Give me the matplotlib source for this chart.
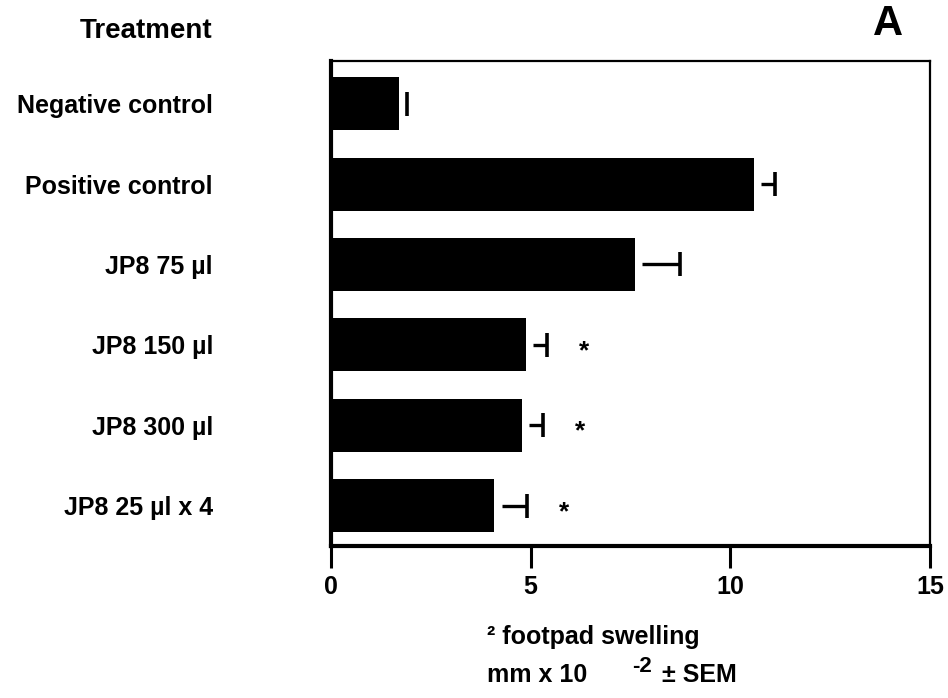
import numpy as np
import matplotlib.pyplot as plt

# values (mm x 10^-2 footpad swelling, +SEM)
treatments = ["Negative control", "Positive control", "JP8 75 µl",
              "JP8 150 µl", "JP8 300 µl", "JP8 25 µl x 4"]
swelling = [1.70, 10.60, 7.62, 4.89, 4.79, 4.09]
sem = [0.20, 0.53, 1.13, 0.52, 0.52, 0.82]
significant = [False, False, False, True, True, True]
x_ticks = [0, 5, 10, 15]

plt.rcParams["font.family"] = ["Liberation Sans", "DejaVu Sans"]
plt.rcParams["font.weight"] = "bold"

fig = plt.figure(figsize=(9.48, 6.98), dpi=100)
ax = fig.add_axes([331 / 948, 1 - 546 / 698, 599 / 948, 485 / 698])

y = np.arange(len(treatments))
vals = np.array(swelling)
errs = np.array(sem)
ax.barh(y, vals, height=0.66, color="black")

# one-sided error bars: small gap after the bar, then line + end cap
gap = 0.18
ax.hlines(y, vals + gap, vals + errs, color="black", linewidth=2.4)
ax.plot(vals + errs, y, linestyle="none", marker="|", markersize=17,
        markeredgewidth=2.6, color="black")

# significance stars just right of the error bar
for yi, v, e, s in zip(y, vals, errs, significant):
    if s:
        ax.text(v + e + 0.92, yi + 0.08, "*", ha="center", va="center",
                fontsize=19, fontweight="bold")

ax.set_xlim(0, 15)
ax.set_ylim(5.5, -0.53)
ax.set_xticks(x_ticks)
ax.set_xticklabels([str(t) for t in x_ticks], fontsize=18)
ax.set_yticks(y)
ax.set_yticklabels(treatments, fontsize=18)
ax.tick_params(axis="y", length=0, pad=85)
ax.tick_params(axis="x", direction="out", length=16, width=2.2, pad=5)

for side in ["left", "bottom"]:
    ax.spines[side].set_linewidth(3)
for side in ["top", "right"]:
    ax.spines[side].set_linewidth(1.6)

fig.text(212 / 948, 1 - 31 / 698, "Treatment", ha="right", va="center",
         fontsize=20, fontweight="bold")
fig.text(888 / 948, 1 - 24 / 698, "A", ha="center", va="center",
         fontsize=30, fontweight="bold")

# axis title, two lines as in the original
fig.text(487 / 948, 1 - 637 / 698, "² footpad swelling", ha="left",
         va="center", fontsize=18, fontweight="bold")
fig.text(487 / 948, 1 - 675 / 698, "mm x 10", ha="left", va="center",
         fontsize=18, fontweight="bold")
fig.text(632 / 948, 1 - 667 / 698, "-2", ha="left", va="center",
         fontsize=16, fontweight="bold")
fig.text(662 / 948, 1 - 675 / 698, "± SEM", ha="left", va="center",
         fontsize=18, fontweight="bold")

fig.savefig("out.png", dpi=100)
